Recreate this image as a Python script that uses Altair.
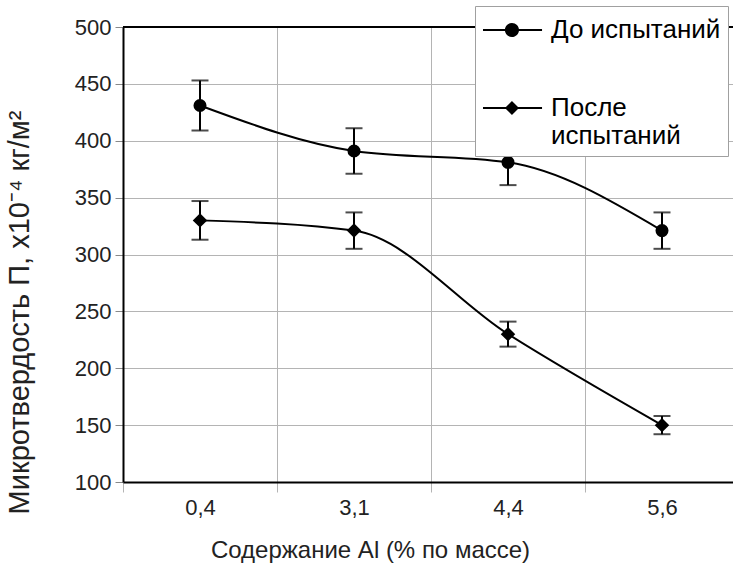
import altair as alt
import pandas as pd

categories = ["0,4", "3,1", "4,4", "5,6"]
series_names = ["До испытаний", "После испытаний"]
before_values = [431, 391, 381, 321]
before_errors = [22, 20, 20, 16]
after_values = [330, 321, 230, 150]
after_errors = [17, 16, 11, 8]
y_ticks = [100, 150, 200, 250, 300, 350, 400, 450, 500]

rows = []
for name, vals, errs in ((series_names[0], before_values, before_errors),
                         (series_names[1], after_values, after_errors)):
    for c, v, e in zip(categories, vals, errs):
        rows.append({"al": c, "series": name, "value": v, "lo": v - e, "hi": v + e})
df = pd.DataFrame(rows)

FONT = "Liberation Sans"
GRID = "#b4b4b4"

x_scale = alt.Scale(domain=categories, range=[0, 616], paddingInner=0, paddingOuter=0)
y_scale = alt.Scale(domain=[100, 500], nice=False, zero=False)

x_axis = alt.Axis(
    title="Содержание Al (% по массе)", tickBand="extent", grid=True,
    gridColor=GRID, gridWidth=1, domainColor="black", domainWidth=2,
    tickColor=GRID, tickSize=10, tickWidth=1, labelAngle=0,
    labelFont=FONT, labelFontSize=22, labelPadding=5, labelColor="#222",
    titleFont=FONT, titleFontSize=24, titleFontWeight="normal", titleColor="#222",
    titleX=247, titleY=75, titleBaseline="alphabetic", titleAlign="center",
)
y_axis = alt.Axis(
    title="Микротвердость П, х10⁻⁴ кг/м²", values=y_ticks, grid=True,
    gridColor=GRID, gridWidth=1, domainColor="black", domainWidth=2,
    tickColor="#888", tickSize=8, tickWidth=1,
    labelFont=FONT, labelFontSize=22, labelPadding=4, labelColor="#222",
    titleFont=FONT, titleFontSize=29, titleFontWeight="normal", titleColor="#222",
    titleX=-95, titleY=285, titleBaseline="alphabetic", titleAlign="center", titleAngle=270,
)

X = alt.X("al:N", sort=categories, scale=x_scale, axis=x_axis)
base = alt.Chart(df)

lines = base.mark_line(color="black", strokeWidth=2, interpolate="monotone").encode(
    x=X, y=alt.Y("value:Q", scale=y_scale, axis=y_axis), detail="series:N"
)
err = base.mark_rule(color="black", strokeWidth=2).encode(
    x=X, y=alt.Y("lo:Q", scale=y_scale), y2="hi:Q"
)
cap_lo = base.mark_tick(color="black", size=17, thickness=2).encode(
    x=X, y=alt.Y("lo:Q", scale=y_scale)
)
cap_hi = base.mark_tick(color="black", size=17, thickness=2).encode(
    x=X, y=alt.Y("hi:Q", scale=y_scale)
)
points = base.mark_point(filled=True, color="black", opacity=1).encode(
    x=X, y=alt.Y("value:Q", scale=y_scale),
    shape=alt.Shape("series:N", scale=alt.Scale(domain=series_names, range=["circle", "diamond"]), legend=None),
    size=alt.Size("series:N", scale=alt.Scale(domain=series_names, range=[170, 210]), legend=None),
)

bar = "M-1,-0.065L2.69,-0.065L2.69,0.065L-1,0.065Z"
sym_circle = bar + "M1.25,0A0.44,0.44,0,1,1,0.37,0A0.44,0.44,0,1,1,1.25,0Z"
sym_diamond = bar + "M0.81,-0.44L1.25,0L0.81,0.44L0.37,0Z"

legend_layer = base.mark_point(filled=True, color="black", opacity=0).encode(
    x=X, y=alt.Y("value:Q", scale=y_scale),
    shape=alt.Shape(
        "series:N",
        scale=alt.Scale(domain=series_names, range=[sym_circle, sym_diamond]),
        legend=alt.Legend(
            title=None, orient="none", legendX=352, legendY=-21, padding=7,
            fillColor="white", strokeColor="#a0a0a0", cornerRadius=0,
            labelFont=FONT, labelFontSize=26, labelColor="black", labelOffset=35,
            labelLimit=400, rowPadding=48, symbolSize=1024, symbolStrokeWidth=2,
            symbolFillColor="black", symbolStrokeColor="black", symbolOpacity=1,
            labelExpr="datum.label == 'После испытаний' ? ['После', 'испытаний'] : datum.label",
        ),
    ),
)

top_line = alt.Chart(df).mark_rule(color="black", strokeWidth=2).encode(
    y=alt.Y(datum=500, scale=y_scale)
)

chart = alt.layer(lines, err, cap_lo, cap_hi, points, legend_layer, top_line).resolve_scale(
    shape="independent", size="independent"
).properties(
    width=610, height=455,
    autosize=alt.AutoSizeParams(type="none"),
    padding={"left": 123, "top": 27, "right": 0, "bottom": 83},
    background="white",
).configure_view(stroke=None)

chart.save("out.html", embed_options={"renderer": "svg", "actions": False})
